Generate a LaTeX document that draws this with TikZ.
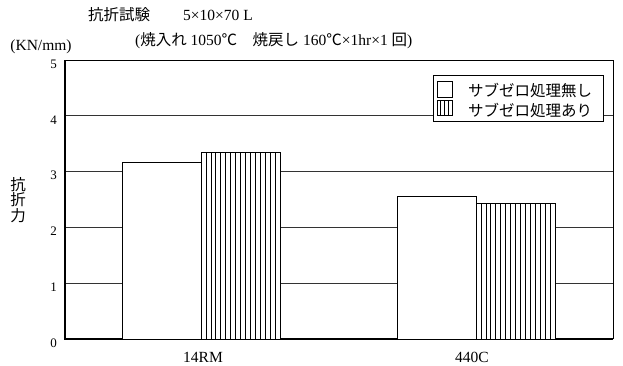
\documentclass[tikz,border=0pt]{standalone}
\usepackage{fontspec}
\setmainfont{Liberation Serif}
\newfontfamily\cjk{Noto Sans CJK JP}
\begin{document}
\begin{tikzpicture}[x=1pt,y=-1pt,
  lab/.style={inner sep=0pt, font=\fontsize{15.5}{17}\selectfont},
  tick/.style={inner sep=0pt, font=\fontsize{13}{15}\selectfont},
  jlab/.style={inner sep=0pt, font=\cjk\fontsize{15.5}{17}\selectfont},
  gridline/.style={line width=0.7pt, black!80},
  bar/.style={draw, line width=1pt, fill=white},
  hatchline/.style={line width=0.7pt}]
\useasboundingbox (0,0) rectangle (623,365);
% frame and grid
\foreach \k in {1,2,3,4} \draw[gridline] (65,{339-55.8*\k}) -- (613,{339-55.8*\k});
\draw[line width=0.8pt] (65,60) -- (613,60) -- (613,339);
\draw[line width=1.1pt] (65,60) -- (65,339) -- (613,339);
% bars 14RM
\draw[bar] (122,339) rectangle (201,162);
\draw[bar] (201,339) rectangle (280,152.5);
\foreach \i in {1,...,15} \draw[hatchline] ({201+79/16*\i},152.5) -- ({201+79/16*\i},339);
% bars 440C
\draw[bar] (397,339) rectangle (476,196.5);
\draw[bar] (476,339) rectangle (555,203);
\foreach \i in {1,...,15} \draw[hatchline] ({476+79/16*\i},203) -- ({476+79/16*\i},339);
% y tick labels
\foreach \v in {0,...,5} \node[tick] (t\v) at (53.5,{343-55.8*\v}) {\v};
% axis label
\node[jlab] (ya) at (18,185) {抗};
\node[jlab] (yb) at (18,200) {折};
\node[jlab] (yc) at (18,215.5) {力};
\node[lab] (unit) at (41,47) {(KN/mm)};
% titles
\node[jlab, anchor=west] (title) at (88,15) {抗折試験};
\node[lab, anchor=west] (dim) at (183,15) {5×10×70 L};
\node[lab, anchor=west] (cond) at (135,41) {({\cjk 焼入れ} 1050{\cjk ℃}\hspace{1em}{\cjk 焼戻し} 160{\cjk ℃}×1hr×1 {\cjk 回})};
% x labels
\node[lab] (x1) at (203,357) {14RM};
\node[lab] (x2) at (472,357) {440C};
% legend
\draw[line width=0.9pt, fill=white] (433,75) rectangle (603,121.5);
\draw[line width=0.8pt] (437,81) rectangle (452,97);
\draw[line width=0.8pt] (437,100) rectangle (452,115);
\foreach \i in {1,2,3} \draw[line width=0.8pt] ({437+3.75*\i},100) -- ({437+3.75*\i},115);
\node[jlab, anchor=west] (l1) at (468,90) {サブゼロ処理無し};
\node[jlab, anchor=west] (l2) at (468,110) {サブゼロ処理あり};
\end{tikzpicture}
\end{document}
